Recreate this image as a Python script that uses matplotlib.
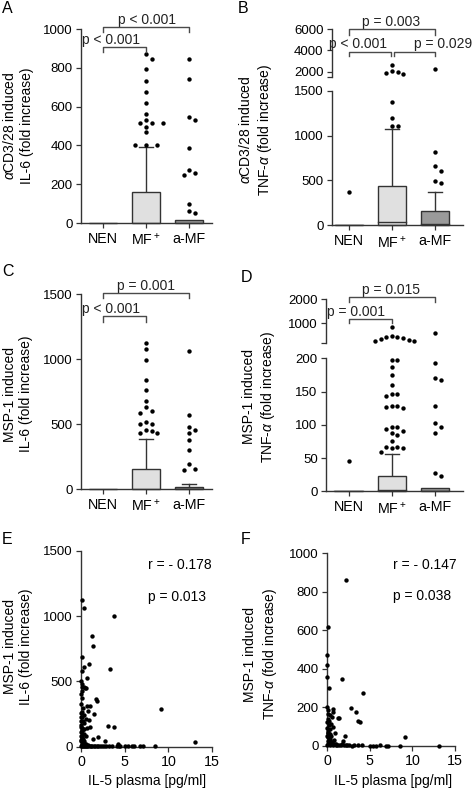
import numpy as np
import matplotlib
matplotlib.use('Agg')
import matplotlib.pyplot as plt
from matplotlib.patches import Rectangle

plt.rcParams['font.family'] = ['Liberation Sans', 'DejaVu Sans']
plt.rcParams['mathtext.fontset'] = 'custom'
plt.rcParams['mathtext.rm'] = 'Liberation Sans'
plt.rcParams['mathtext.it'] = 'Liberation Sans:italic'
plt.rcParams['mathtext.default'] = 'it'

# ---------------- data ----------------
groups = ['NEN', 'MF$^+$', 'a-MF']

A_q3 = [2, 158, 15]
A_med = [0, 0, 0]
A_whisk = [2, 393, 15]
A_nen = []
A_mf = [870, 847, 792, 734, 677, 617, 560, 531, 514, 514, 514, 497, 467, 404, 404, 404]
A_amf = [844, 741, 545, 531, 388, 273, 256, 246, 96, 62, 50]

B_q3 = [6, 438, 163]
B_med = [2, 33, 12]
B_whisk = [6, 1069, 374]
B_nen = [368]
B_mf = [2651, 2028, 1935, 1879, 1786, 1370, 1199, 1106, 1106]
B_amf = [2251, 820, 664, 608, 497, 468]

C_q3 = [2, 152, 18]
C_med = [0, 0, 3]
C_whisk = [2, 385, 38]
C_nen = []
C_mf = [1122, 1076, 991, 839, 762, 678, 629, 603, 588, 514, 500, 498, 452, 449, 429, 429]
C_amf = [1060, 570, 480, 457, 429, 377, 303, 190, 157, 149]

D_q3 = [1, 23.5, 4.5]
D_med = [0.5, 1.5, 1]
D_whisk = [1, 56, 4.5]
D_nen = [45.6]
D_mf = [860, 477, 449, 430, 408, 342, 313, 290, 272, 197.5, 197.5, 187.5, 175, 160,
        147, 146, 143, 129, 128, 127, 126, 97, 96, 93, 91, 88, 85, 75, 67, 67, 65.6,
        64.6, 59]
D_amf = [613, 193, 170, 167, 128, 103, 97, 88, 27, 23]

E_x = [0.08, 0.38, 3.80, 1.22, 1.41, 0.08, 0.92, 0.38, 3.32, 0.08, 0.65, 0.05, 0.15, 0.08,
       0.30, 0.45, 0.60, 0.15, 0.05, 0.10, 1.68, 1.80, 0.05, 0.65, 1.03, 0.20, 9.16, 0.76,
       0.10, 1.49, 0.30, 0.05, 0.55, 0.90, 0.20, 0.40, 0.05, 3.13, 3.82, 1.03, 0.65, 0.40,
       0.15, 0.05, 0.30, 0.12, 0.55, 1.91, 0.08, 1.41, 2.75, 0.30, 0.05, 13.05, 0.20, 4.20,
       0.60, 4.35, 0.05, 0.10,
       5.04, 5.42, 5.80, 6.10, 6.76, 7.14, 8.47, 0.05, 0.15, 0.25, 0.35, 0.45, 0.55, 0.70,
       0.85, 1.00, 1.15, 1.30, 1.45, 1.60, 1.80, 2.00, 2.20, 2.40, 2.60, 2.90, 3.20, 3.50,
       4.10, 4.50, 0.20, 0.50, 0.80, 0.10, 0.40, 0.25, 0.05, 0.02, 0.10, 0.05, 0.15, 0.08,
       0.20, 0.15, 0.05]
E_y = [1120, 1065, 1000, 845, 770, 684, 633, 612, 595, 579, 523, 500, 478, 455,
       460, 452, 450, 430, 400, 370, 363, 350, 330, 314, 312, 300, 286, 273,
       262, 250, 240, 225, 212, 205, 195, 180, 165, 158, 148, 148, 145, 138,
       128, 110, 100, 90, 80, 77, 68, 57, 46, 45, 40, 36, 30, 21,
       20, 8, 55, 15,
       2, 2, 2, 2, 2, 2, 2, 3, 6, 4, 8, 3, 5, 3,
       6, 4, 2, 5, 3, 4, 2, 3, 2, 4, 2, 3, 2, 3,
       4, 2, 12, 14, 10, 22, 25, 18, 260, 200, 230, 150, 140, 120,
       60, 75, 85]

F_x = [2.23, 0.08, 0.04, 0.04, 0.04, 0.27, 1.72, 4.18, 2.78, 3.40, 3.67, 3.87, 1.32, 1.44,
       0.67, 0.74, 0.35, 0.55, 0.04, 0.10, 0.05, 0.20, 0.67, 2.10, 0.94, 1.84, 9.14, 13.16,
       0.05, 0.10, 0.15, 0.30, 0.05, 0.20, 0.40, 0.10, 0.60, 0.25, 0.45, 0.08, 0.15, 0.30,
       0.50, 0.80, 1.00, 0.20,
       5.00, 5.40, 5.80, 6.20, 6.90, 7.20, 8.50, 4.10, 3.60, 3.20, 2.90, 2.60, 2.40, 2.20,
       2.00, 1.80, 1.60, 1.40, 1.20, 1.05, 0.90, 0.75, 0.60, 0.45, 0.30, 0.15, 0.05, 0.20,
       0.35, 0.50, 0.70, 0.12, 0.25, 0.06]
F_y = [862, 619, 472, 420, 357, 303, 348, 274, 196, 175, 130, 125, 147, 144,
       190, 178, 161, 149, 200, 165, 125, 110, 97, 53, 66, 28, 45, 2,
       95, 80, 70, 60, 50, 40, 35, 25, 20, 130, 115, 140, 185, 88,
       50, 30, 12, 15,
       2, 2, 2, 3, 2, 2, 2, 3, 4, 3, 2, 4, 3, 5,
       4, 8, 6, 4, 7, 5, 9, 6, 8, 10, 5, 8, 4, 20,
       25, 15, 12, 45, 55, 65]

# ---------------- style ----------------
W, H = 472, 790
fig = plt.figure(figsize=(W / 100, H / 100), dpi=100)
SPINE = '#333333'
BRK = '#4a4a4a'
FACES = ['white', '#e0e0e0', '#9a9a9a']
TICKFS = 9.5
CATFS = 10.3
LABFS = 10


def px_axes(l, t, r, b):
    return fig.add_axes([l / W, 1 - b / H, (r - l) / W, (b - t) / H])


def style(ax, bottom=True):
    for s in ['top', 'right']:
        ax.spines[s].set_visible(False)
    ax.spines['left'].set_color(SPINE)
    ax.spines['bottom'].set_color(SPINE)
    ax.spines['left'].set_linewidth(1.0)
    ax.spines['bottom'].set_linewidth(1.0)
    if not bottom:
        ax.spines['bottom'].set_visible(False)
        ax.tick_params(axis='x', bottom=False, labelbottom=False)
    ax.tick_params(axis='both', which='both', direction='out', length=3.5, width=0.9,
                   color=SPINE, labelsize=TICKFS, pad=2.5)
    ax.patch.set_alpha(0)


def swarm_x(ax, xc, vals, dmin=5.6):
    vals = np.asarray(vals, dtype=float)
    res = np.zeros(len(vals))
    placed = []
    inv = ax.transData.inverted()
    x0 = ax.transData.transform((xc, 0))[0]
    for idx in np.argsort(-vals, kind='stable'):
        yd = ax.transData.transform((xc, vals[idx]))[1]
        k = 0
        while True:
            off = ((k + 1) // 2) * dmin * (1 if k % 2 == 1 else -1)
            ok = all(np.hypot(px - (x0 + off), py - yd) >= dmin for px, py in placed)
            if ok:
                break
            k += 1
        placed.append((x0 + off, yd))
        res[idx] = inv.transform((x0 + off, yd))[0]
    return res


def draw_boxes(ax, q3, med, whisk, width=0.66):
    for i in range(3):
        ax.add_patch(Rectangle((i - width / 2, 0), width, q3[i], facecolor=FACES[i],
                               edgecolor=SPINE, linewidth=1.0, zorder=2, clip_on=False))
        if med[i] > 0:
            ax.plot([i - width / 2, i + width / 2], [med[i], med[i]], color=SPINE, lw=1.0,
                    zorder=3)
        if whisk[i] > q3[i]:
            ax.plot([i, i], [q3[i], whisk[i]], color=SPINE, lw=1.0, zorder=1)
            ax.plot([i - width / 4, i + width / 4], [whisk[i], whisk[i]], color=SPINE,
                    lw=1.0, zorder=1)


def draw_points(ax, groups_vals, lo, hi):
    for i, vals in enumerate(groups_vals):
        v = [x for x in vals if lo < x <= hi] if lo is not None else [x for x in vals if x <= hi]
        if not v:
            continue
        xs = swarm_x(ax, i, v)
        ax.scatter(xs, v, s=10, color='black', zorder=4, linewidths=0, clip_on=False)


def bracket(ax, x1, x2, y, h, text=None, tx=None):
    ax.plot([x1, x1, x2, x2], [y - h, y, y, y - h], color=BRK, lw=1.0, clip_on=False,
            zorder=5)
    if text:
        ax.annotate(text, (tx, y), xytext=(0, 2.2), textcoords='offset points',
                    ha='center', va='baseline', fontsize=LABFS, color='#222222',
                    annotation_clip=False)


def cat_axis(ax, xlim):
    ax.set_xlim(*xlim)
    ax.set_xticks(range(3))
    ax.set_xticklabels(groups, fontsize=CATFS)
    ax.tick_params(axis='x', pad=3)


def ftext(x, y, s, **kw):
    fig.text(x / W, 1 - y / H, s, **kw)


# ---------------- Panel A ----------------
axA = px_axes(81, 29, 212, 223)
style(axA)
axA.set_ylim(0, 1000)
axA.set_yticks([0, 200, 400, 600, 800, 1000])
cat_axis(axA, (-0.51, 2.53))
draw_boxes(axA, A_q3, A_med, A_whisk)
draw_points(axA, [A_nen, A_mf, A_amf], None, 1e9)
bracket(axA, 0, 2, 1012, 25, 'p < 0.001', 1.02)
bracket(axA, 0, 1, 906, 27, 'p < 0.001', 0.19)

# ---------------- Panel B ----------------
axB = px_axes(332, 90.7, 462.7, 225.3)
style(axB)
axB.set_ylim(0, 1500)
axB.set_yticks([0, 500, 1000, 1500])
cat_axis(axB, (-0.39, 2.64))
draw_boxes(axB, B_q3, B_med, B_whisk)
draw_points(axB, [B_nen, B_mf, B_amf], None, 1500)

axB2 = px_axes(332, 29, 462.7, 77)
style(axB2, bottom=False)
axB2.set_xlim(-0.39, 2.64)
axB2.set_ylim(1500, 6000)
axB2.set_yticks([2000, 4000, 6000])
axB2.set_yticks([1500], minor=True)
draw_points(axB2, [B_nen, B_mf, B_amf], 1500, 1e9)
bracket(axB2, 0, 2, 5971, 500, 'p = 0.003', 0.98)
bracket(axB2, 0, 0.97, 3888, 450, 'p < 0.001', 0.22)
bracket(axB2, 1.04, 2, 3888, 450, 'p = 0.029', 2.18)

# ---------------- Panel C ----------------
axC = px_axes(81, 294.3, 212, 489)
style(axC)
axC.set_ylim(0, 1500)
axC.set_yticks([0, 500, 1000, 1500])
cat_axis(axC, (-0.51, 2.53))
draw_boxes(axC, C_q3, C_med, C_whisk)
draw_points(axC, [C_nen, C_mf, C_amf], None, 1e9)
bracket(axC, 0, 2, 1507, 36, 'p = 0.001', 1.0)
bracket(axC, 0, 1, 1334, 46, 'p < 0.001', 0.19)

# ---------------- Panel D ----------------
axD = px_axes(326, 358.3, 462.7, 491.3)
style(axD)
axD.set_ylim(0, 200)
axD.set_yticks([0, 50, 100, 150, 200])
cat_axis(axD, (-0.526, 2.64))
draw_boxes(axD, D_q3, D_med, D_whisk)
draw_points(axD, [D_nen, D_mf, D_amf], None, 200)

axD2 = px_axes(326, 299, 462.7, 342.7)
style(axD2, bottom=False)
axD2.set_xlim(-0.526, 2.64)
axD2.set_ylim(200, 2000)
axD2.set_yticks([1000, 2000])
axD2.set_yticks([200], minor=True)
draw_points(axD2, [D_nen, D_mf, D_amf], 200, 1e9)
bracket(axD2, 0, 2, 2095, 200, 'p = 0.015', 0.98)
bracket(axD2, 0, 1, 1165, 165, 'p = 0.001', 0.17)

# ---------------- Panel E ----------------
axE = px_axes(81, 550.7, 212, 746.7)
style(axE)
axE.set_xlim(0, 15)
axE.set_ylim(0, 1500)
axE.set_xticks([0, 5, 10, 15])
axE.set_yticks([0, 500, 1000, 1500])
axE.tick_params(axis='x', labelsize=CATFS)
axE.scatter(E_x, E_y, s=10, color='black', linewidths=0, zorder=4, clip_on=False)
axE.text(7.7, 1391, 'r = - 0.178', ha='left', va='center', fontsize=LABFS)
axE.text(7.7, 1146, 'p = 0.013', ha='left', va='center', fontsize=LABFS)

# ---------------- Panel F ----------------
axF = px_axes(327, 553.3, 455, 746)
style(axF)
axF.set_xlim(0, 15)
axF.set_ylim(0, 1000)
axF.set_xticks([0, 5, 10, 15])
axF.set_yticks([0, 200, 400, 600, 800, 1000])
axF.tick_params(axis='x', labelsize=CATFS)
axF.scatter(F_x, F_y, s=10, color='black', linewidths=0, zorder=4, clip_on=False)
axF.text(7.7, 939, 'r = - 0.147', ha='left', va='center', fontsize=LABFS)
axF.text(7.7, 778, 'p = 0.038', ha='left', va='center', fontsize=LABFS)

# ---------------- labels ----------------
lab_kw = dict(rotation=90, ha='center', va='center', fontsize=LABFS, linespacing=1.25,
              multialignment='center')
ftext(18, 126, '$\\alpha$CD3/28 induced\nIL-6 (fold increase)', **lab_kw)
ftext(256, 130, '$\\alpha$CD3/28 induced\nTNF-$\\alpha$ (fold increase)', **lab_kw)
ftext(18, 394, 'MSP-1 induced\nIL-6 (fold increase)', **lab_kw)
ftext(259.3, 397, 'MSP-1 induced\nTNF-$\\alpha$ (fold increase)', **lab_kw)
ftext(18, 647, 'MSP-1 induced\nIL-6 (fold increase)', **lab_kw)
ftext(261, 654, 'MSP-1 induced\nTNF-$\\alpha$ (fold increase)', **lab_kw)
ftext(146.7, 781, 'IL-5 plasma [pg/ml]', ha='center', va='center', fontsize=LABFS)
ftext(392.7, 781, 'IL-5 plasma [pg/ml]', ha='center', va='center', fontsize=LABFS)

for letter, x, y in [('A', 7.5, 8.3), ('B', 243, 8.3), ('C', 8, 271), ('D', 246, 278),
                     ('E', 7, 539), ('F', 246, 539)]:
    ftext(x, y, letter, ha='center', va='center', fontsize=11.5)

fig.savefig('out.png', dpi=100)
